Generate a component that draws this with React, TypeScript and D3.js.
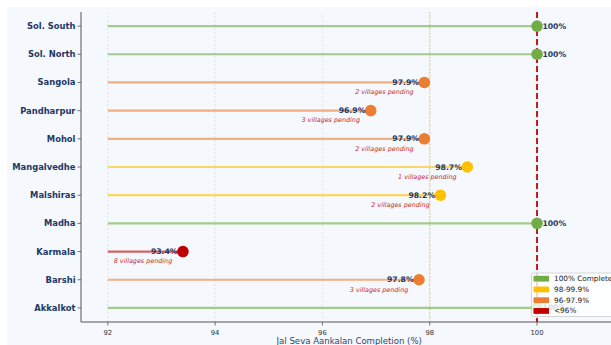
import React from "react";
import * as d3 from "d3";

// Jal Seva Aankalan completion by taluka (top to bottom)
const talukas = [
  "Sol. South",
  "Sol. North",
  "Sangola",
  "Pandharpur",
  "Mohol",
  "Mangalvedhe",
  "Malshiras",
  "Madha",
  "Karmala",
  "Barshi",
  "Akkalkot",
];
const completion = [100, 100, 97.9, 96.9, 97.9, 98.7, 98.2, 100, 93.4, 97.8, 100];
const pendingVillages = [0, 0, 2, 3, 2, 1, 2, 0, 8, 3, 0];

const xTicks = [92, 94, 96, 98, 100];
const legendLabels = ["100% Complete", "98-99.9%", "96-97.9%", "<96%"];
const bandColors = ["#70AD47", "#FFC000", "#ED7D31", "#C00000"];

const W = 611;
const H = 345;
const BG = "#f5f8fc";
const NAVY = "#1f3864";

function bandColor(v: number): string {
  if (v >= 100) return bandColors[0];
  if (v >= 98) return bandColors[1];
  if (v >= 96) return bandColors[2];
  return bandColors[3];
}

export default function App() {
  const left = 81;
  const bottom = 322;
  const top = 12;
  const x = d3.scaleLinear().domain([91.5, 101.5]).range([left, 617.5]);
  const y = d3.scaleLinear().domain([-0.5, 10.5]).range([bottom, top]);
  const n = talukas.length;
  const rowY = (i: number) => y(n - 1 - i);
  const start = 92;

  const font = "'DejaVu Sans', Verdana, sans-serif";

  return (
    <div style={{ position: "absolute", left: 0, top: 0 }}>
      <svg width={W} height={H} style={{ display: "block", fontFamily: font }}>
        <rect x={0} y={0} width={W} height={H} fill="#ffffff" />
        <rect x={7} y={7} width={W - 7} height={H - 7} fill={BG} />

        {/* vertical grid */}
        {xTicks.map((t) => (
          <line
            key={"g" + t}
            x1={x(t)}
            x2={x(t)}
            y1={top}
            y2={bottom}
            stroke="#cfd3d8"
            strokeWidth={0.8}
            strokeDasharray="2,2"
            opacity={0.7}
          />
        ))}

        {/* 98% threshold */}
        <line
          x1={x(98)}
          x2={x(98)}
          y1={top}
          y2={bottom}
          stroke="#FFC000"
          strokeWidth={1}
          strokeDasharray="1.5,1.5"
          opacity={0.75}
        />

        {/* 100% target */}
        <line
          x1={x(100)}
          x2={x(100)}
          y1={top}
          y2={bottom}
          stroke="#C00000"
          strokeWidth={1.8}
          strokeDasharray="6,3"
        />

        {/* stems */}
        {completion.map((v, i) => (
          <line
            key={"s" + i}
            x1={x(start)}
            x2={x(v)}
            y1={rowY(i)}
            y2={rowY(i)}
            stroke={bandColor(v)}
            strokeWidth={2.2}
            opacity={0.6}
          />
        ))}

        {/* markers */}
        {completion.map((v, i) => (
          <circle key={"m" + i} cx={x(v)} cy={rowY(i)} r={5.8} fill={bandColor(v)} />
        ))}

        {/* value labels */}
        {completion.map((v, i) =>
          v >= 100 ? (
            <text
              key={"v" + i}
              x={x(v + 0.1)}
              y={rowY(i)}
              dominantBaseline="central"
              fontSize={7.7}
              fontWeight="bold"
              fill={NAVY}
            >
              100%
            </text>
          ) : (
            <text
              key={"v" + i}
              x={x(v - 0.1)}
              y={rowY(i)}
              dominantBaseline="central"
              textAnchor="end"
              fontSize={7.7}
              fontWeight="bold"
              fill={NAVY}
            >
              {v.toFixed(1)}%
            </text>
          )
        )}

        {/* pending villages */}
        {completion.map((v, i) =>
          pendingVillages[i] > 0 ? (
            <text
              key={"p" + i}
              x={x(v - 0.2)}
              y={rowY(i) + 9.8}
              dominantBaseline="central"
              textAnchor="end"
              fontSize={6.4}
              fontStyle="italic"
              fill="#C00000"
              opacity={0.85}
            >
              {pendingVillages[i]} villages pending
            </text>
          ) : null
        )}

        {/* spines */}
        <line x1={left} x2={left} y1={top} y2={bottom} stroke="#555" strokeWidth={1} />
        <line x1={left} x2={W} y1={bottom} y2={bottom} stroke="#555" strokeWidth={1} />

        {/* y axis */}
        {talukas.map((t, i) => (
          <g key={"yt" + i}>
            <line x1={left - 3.5} x2={left} y1={rowY(i)} y2={rowY(i)} stroke="#555" strokeWidth={0.8} />
            <text
              x={left - 5.5}
              y={rowY(i)}
              dominantBaseline="central"
              textAnchor="end"
              fontSize={8.4}
              fontWeight="bold"
              fill={NAVY}
            >
              {t}
            </text>
          </g>
        ))}

        {/* x axis */}
        {xTicks.map((t) => (
          <g key={"xt" + t}>
            <line x1={x(t)} x2={x(t)} y1={bottom} y2={bottom + 3.5} stroke="#555" strokeWidth={0.8} />
            <text
              x={x(t)}
              y={bottom + 11}
              dominantBaseline="central"
              textAnchor="middle"
              fontSize={6.8}
              fill="#333"
            >
              {t}
            </text>
          </g>
        ))}
        <text
          x={(left + 617.5) / 2}
          y={bottom + 19}
          dominantBaseline="central"
          textAnchor="middle"
          fontSize={8.55}
          fill="#2c4770"
        >
          Jal Seva Aankalan Completion (%)
        </text>

        {/* legend */}
        <g>
          <rect
            x={531.5}
            y={273}
            width={100}
            height={43.5}
            rx={2}
            fill="#ffffff"
            fillOpacity={0.82}
            stroke="#cccccc"
            strokeWidth={0.8}
          />
          {legendLabels.map((lab, k) => {
            const cy = 278.7 + k * 10.75;
            return (
              <g key={"l" + k}>
                <rect x={533.5} y={cy - 2.9} width={15.5} height={5.8} fill={bandColors[k]} />
                <text x={554} y={cy} dominantBaseline="central" fontSize={7.3} fill="#222">
                  {lab}
                </text>
              </g>
            );
          })}
        </g>
      </svg>
    </div>
  );
}
